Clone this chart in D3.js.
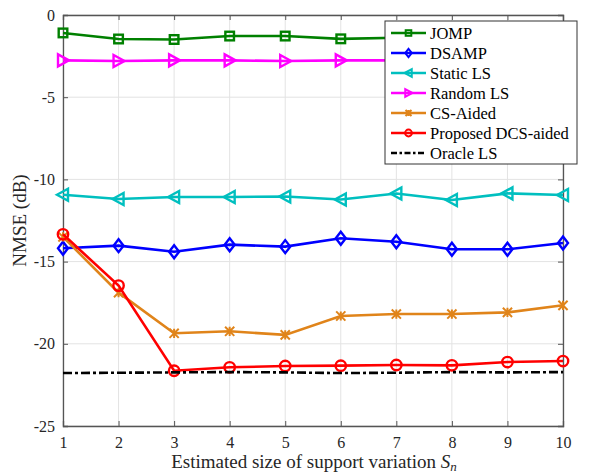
<!DOCTYPE html>
<html>
<head>
<meta charset="utf-8">
<script src="https://cdn.jsdelivr.net/npm/d3@7"></script>
<style>
  html, body { margin: 0; padding: 0; background: #fff; }
  svg text { font-family: "Liberation Serif", "DejaVu Serif", serif; }
</style>
</head>
<body>
<svg id="chart" width="594" height="474"></svg>
<script>
// Support-variation sizes on the x axis
const sizes = [1, 2, 3, 4, 5, 6, 7, 8, 9, 10];

// NMSE (dB) for each estimator
const jomp      = [-1.09, -1.46, -1.49, -1.28, -1.28, -1.45, -1.38, -1.40, -1.42, -1.44];
const dsamp     = [-14.19, -14.03, -14.40, -13.97, -14.09, -13.58, -13.79, -14.25, -14.25, -13.87];
const staticLS  = [-10.93, -11.19, -11.07, -11.07, -11.04, -11.22, -10.86, -11.25, -10.85, -10.95];
const randomLS  = [-2.76, -2.80, -2.76, -2.76, -2.80, -2.76, -2.76, -2.78, -2.76, -2.78];
const csAided   = [-13.50, -16.89, -19.36, -19.24, -19.46, -18.31, -18.19, -18.19, -18.09, -17.66];
const proposed  = [-13.34, -16.46, -21.64, -21.43, -21.35, -21.33, -21.29, -21.31, -21.11, -21.05];
const oracleLS  = [-21.78, -21.76, -21.74, -21.72, -21.74, -21.78, -21.76, -21.72, -21.74, -21.72];

const xTicks = [1, 2, 3, 4, 5, 6, 7, 8, 9, 10];
const yTicks = [0, -5, -10, -15, -20, -25];

const seriesNames = ["JOMP", "DSAMP", "Static LS", "Random LS", "CS-Aided", "Proposed DCS-aided", "Oracle LS"];
const seriesValues = [jomp, dsamp, staticLS, randomLS, csAided, proposed, oracleLS];
const seriesColors = ["#008000", "#0000ff", "#00bfbf", "#ff00ff", "#e0841a", "#ff0000", "#000000"];
const seriesMarkers = ["square", "diamond", "triLeft", "triRight", "star", "circle", "none"];

const serif = "'Liberation Serif', 'DejaVu Serif', serif";
const svg = d3.select("#chart").attr("font-family", serif);
const m = { left: 63, right: 563, top: 15, bottom: 426 };

const x = d3.scaleLinear().domain([1, 10]).range([m.left, m.right]);
const y = d3.scaleLinear().domain([-25, 0]).range([m.bottom, m.top]);

// grid
const grid = svg.append("g");
grid.selectAll("line.gx").data(xTicks).join("line")
  .attr("x1", d => x(d)).attr("x2", d => x(d))
  .attr("y1", m.top).attr("y2", m.bottom)
  .attr("stroke", "#e3e3e3").attr("stroke-width", 1);
grid.selectAll("line.gy").data(yTicks).join("line")
  .attr("x1", m.left).attr("x2", m.right)
  .attr("y1", d => y(d)).attr("y2", d => y(d))
  .attr("stroke", "#e3e3e3").attr("stroke-width", 1);

// axes (ticks point inward)
const axisColor = "#555";
const xAxis = svg.append("g").attr("transform", `translate(0,${m.bottom})`)
  .call(d3.axisBottom(x).tickValues(xTicks).tickSize(-5).tickPadding(11).tickFormat(d3.format("d")));
const xTop = svg.append("g").attr("transform", `translate(0,${m.top})`)
  .call(d3.axisTop(x).tickValues(xTicks).tickSize(-5).tickFormat(""));
const yAxis = svg.append("g").attr("transform", `translate(${m.left},0)`)
  .call(d3.axisLeft(y).tickValues(yTicks).tickSize(-5).tickPadding(8).tickFormat(d => d));
const yRight = svg.append("g").attr("transform", `translate(${m.right},0)`)
  .call(d3.axisRight(y).tickValues(yTicks).tickSize(-5).tickFormat(""));

[xAxis, xTop, yAxis, yRight].forEach(g => {
  g.attr("font-family", serif).attr("font-size", 16);
  g.select(".domain").attr("stroke", axisColor).attr("stroke-width", 1.3);
  g.selectAll(".tick line").attr("stroke", axisColor).attr("stroke-width", 1);
  g.selectAll("text").attr("fill", "#262626");
});

// marker shapes; k scales the glyph (legend uses smaller ones)
function drawMarker(g, type, cx, cy, color, k = 1) {
  const s = 4.6 * k;
  const sw = k < 1 ? 2 : 2.4;
  if (type === "square") {
    const h = 4.3 * k;
    g.append("rect").attr("x", cx - h).attr("y", cy - h).attr("width", 2 * h).attr("height", 2 * h)
      .attr("fill", "none").attr("stroke", color).attr("stroke-width", sw);
  } else if (type === "diamond") {
    g.append("path").attr("d", `M${cx},${cy - 6.5 * k}L${cx + 5 * k},${cy}L${cx},${cy + 6.5 * k}L${cx - 5 * k},${cy}Z`)
      .attr("fill", "none").attr("stroke", color).attr("stroke-width", sw);
  } else if (type === "triLeft") {
    g.append("path").attr("d", `M${cx - 6 * k},${cy}L${cx + 5 * k},${cy - 6 * k}L${cx + 5 * k},${cy + 6 * k}Z`)
      .attr("fill", "none").attr("stroke", color).attr("stroke-width", sw);
  } else if (type === "triRight") {
    g.append("path").attr("d", `M${cx + 6 * k},${cy}L${cx - 5 * k},${cy - 6 * k}L${cx - 5 * k},${cy + 6 * k}Z`)
      .attr("fill", "none").attr("stroke", color).attr("stroke-width", sw);
  } else if (type === "star") {
    g.append("path").attr("d",
      `M${cx - s},${cy - s}L${cx + s},${cy + s}M${cx - s},${cy + s}L${cx + s},${cy - s}M${cx},${cy - s}L${cx},${cy + s}`)
      .attr("fill", "none").attr("stroke", color).attr("stroke-width", 2);
  } else if (type === "circle") {
    g.append("circle").attr("cx", cx).attr("cy", cy).attr("r", 5.2 * k)
      .attr("fill", "none").attr("stroke", color).attr("stroke-width", sw);
  }
}

const line = d3.line().x((d, i) => x(sizes[i])).y(d => y(d));

const plot = svg.append("g");
seriesValues.forEach((vals, k) => {
  const g = plot.append("g");
  g.append("path").datum(vals).attr("d", line)
    .attr("fill", "none").attr("stroke", seriesColors[k]).attr("stroke-width", 2.6)
    .attr("stroke-dasharray", seriesMarkers[k] === "none" ? "9,3,3,3" : null);
  vals.forEach((v, i) => drawMarker(g, seriesMarkers[k], x(sizes[i]), y(v), seriesColors[k]));
});

// legend
const lg = svg.append("g");
lg.append("rect").attr("x", 385).attr("y", 21).attr("width", 192).attr("height", 143)
  .attr("fill", "#fff").attr("stroke", "#333").attr("stroke-width", 1);
seriesNames.forEach((name, k) => {
  const cy = 33 + k * 20;
  lg.append("line").attr("x1", 391).attr("x2", 426).attr("y1", cy).attr("y2", cy)
    .attr("stroke", seriesColors[k]).attr("stroke-width", 2.6)
    .attr("stroke-dasharray", seriesMarkers[k] === "none" ? "6,2.5,2.5,2.5" : null);
  drawMarker(lg, seriesMarkers[k], 408.5, cy, seriesColors[k], 0.65);
  lg.append("text").attr("x", 430).attr("y", cy + 5.5).text(name)
    .attr("fill", "#000").attr("font-size", 16.5);
});

// axis titles
svg.append("text")
  .attr("transform", `translate(19,${(m.top + m.bottom) / 2}) rotate(-90)`)
  .attr("dy", "0.35em")
  .attr("text-anchor", "middle").attr("fill", "#262626").attr("font-size", 19)
  .text("NMSE (dB)");

const xt = svg.append("text").attr("x", (m.left + m.right) / 2 + 1).attr("y", 468)
  .attr("text-anchor", "middle").attr("fill", "#262626").attr("font-size", 19);
xt.append("tspan").text("Estimated size of support variation ");
xt.append("tspan").attr("font-style", "italic").text("S");
xt.append("tspan").attr("font-style", "italic").attr("dy", 3).attr("font-size", 13).text("n");
</script>
</body>
</html>
